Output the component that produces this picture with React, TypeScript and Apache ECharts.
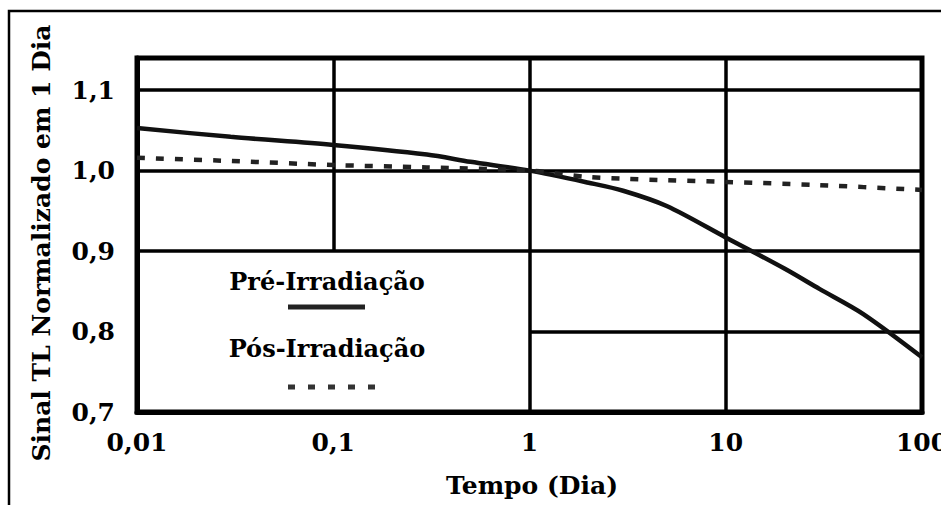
import React, { useEffect, useRef } from "react";
import * as echarts from "echarts";

// Data
const xTickValues = [0.01, 0.1, 1, 10, 100];
const xTickLabels = ["0,01", "0,1", "1", "10", "100"];
const yTickValues = [0.7, 0.8, 0.9, 1.0, 1.1];
const yTickLabels = ["0,7", "0,8", "0,9", "1,0", "1,1"];

const preX = [0.01, 0.03, 0.1, 0.3, 0.5, 1, 2, 3, 5, 10, 20, 30, 50, 100];
const preY = [1.053, 1.042, 1.032, 1.02, 1.011, 1.0, 0.985, 0.975, 0.956, 0.917, 0.878, 0.853, 0.822, 0.768];

const postX = [0.01, 0.03, 0.1, 0.3, 1, 2, 3, 5, 10, 30, 100];
const postY = [1.016, 1.012, 1.007, 1.004, 1.0, 0.992, 0.99, 0.988, 0.986, 0.982, 0.976];

const seriesNames = ["Pré-Irradiação", "Pós-Irradiação"];
const xTitle = "Tempo (Dia)";
const yTitle = "Sinal TL Normalizado em 1 Dia";

const FONT = "DejaVu Serif";

export default function App() {
  const ref = useRef<HTMLDivElement>(null);

  useEffect(() => {
    if (!ref.current) return;
    const chart = echarts.init(ref.current, null, { renderer: "svg" });
    const gridLine = { color: "#000", width: 3.5, type: "solid" as const };
    const textStyle = (size: number) => ({
      fill: "#000",
      fontFamily: FONT,
      fontWeight: "bold" as const,
      fontSize: size,
      align: "center" as const,
      verticalAlign: "middle" as const,
    });
    const option = {
      animation: false,
      backgroundColor: "#fff",
      grid: {
        left: 137,
        right: 19,
        top: 58,
        bottom: 93,
        show: true,
        borderColor: "#000",
        borderWidth: 5,
        backgroundColor: "transparent",
        containLabel: false,
        outerBoundsMode: "none",
      },
      xAxis: {
        type: "log",
        logBase: 10,
        min: 0.01,
        max: 100,
        axisLine: { show: true, lineStyle: { color: "#000", width: 5 } },
        axisTick: { show: false },
        splitLine: { show: false },
        axisLabel: {
          margin: 18,
          color: "#000",
          fontFamily: FONT,
          fontWeight: "bold",
          fontSize: 25,
          formatter: (v: number) => {
            const i = xTickValues.findIndex((t) => Math.abs(Math.log10(t) - Math.log10(v)) < 1e-6);
            return i >= 0 ? xTickLabels[i] : "";
          },
        },
      },
      yAxis: {
        type: "value",
        min: 0.7,
        max: 1.14,
        interval: 0.1,
        axisLine: { show: true, lineStyle: { color: "#000", width: 5 } },
        axisTick: { show: false },
        splitLine: { show: false },
        axisLabel: {
          margin: 22,
          color: "#000",
          fontFamily: FONT,
          fontWeight: "bold",
          fontSize: 25,
          formatter: (v: number) => {
            const i = yTickValues.findIndex((t) => Math.abs(t - v) < 1e-6);
            return i >= 0 ? yTickLabels[i] : "";
          },
        },
      },
      series: [
        {
          name: seriesNames[0],
          type: "line",
          smooth: 0.3,
          symbol: "none",
          lineStyle: { color: "#111", width: 4.5 },
          data: preX.map((x, i) => [x, preY[i]]),
          z: 3,
          markLine: {
            silent: true,
            symbol: "none",
            label: { show: false },
            lineStyle: gridLine,
            z: 1,
            data: [
              { yAxis: 1.1 },
              { yAxis: 1.0 },
              { yAxis: 0.9 },
              [{ coord: [1, 0.8] }, { coord: [100, 0.8] }],
              [{ coord: [0.1, 0.9] }, { coord: [0.1, 1.14] }],
              { xAxis: 1 },
              { xAxis: 10 },
            ],
          },
        },
        {
          name: seriesNames[1],
          type: "line",
          smooth: 0.3,
          symbol: "none",
          lineStyle: { color: "#222", width: 4.5, type: [8, 11] },
          data: postX.map((x, i) => [x, postY[i]]),
          z: 4,
        },
      ],
      graphic: [
        {
          type: "rect",
          silent: true,
          shape: { x: 9, y: 11, width: 1200, height: 1200 },
          style: { fill: "none", stroke: "#000", lineWidth: 2.5 },
        },
        {
          type: "text",
          x: 41,
          y: 243,
          rotation: Math.PI / 2,
          style: { text: yTitle, ...textStyle(25) },
        },
        {
          type: "text",
          x: 532,
          y: 485,
          style: { text: xTitle, ...textStyle(25) },
        },
        {
          type: "text",
          x: 327,
          y: 281,
          style: { text: seriesNames[0], ...textStyle(24) },
        },
        {
          type: "line",
          shape: { x1: 288, y1: 307, x2: 365, y2: 307 },
          style: { stroke: "#222", lineWidth: 5 },
        },
        {
          type: "text",
          x: 327,
          y: 348,
          style: { text: seriesNames[1], ...textStyle(24) },
        },
        {
          type: "line",
          shape: { x1: 288, y1: 387, x2: 378, y2: 387 },
          style: { stroke: "#333", lineWidth: 5, lineDash: [7, 13] },
        },
      ],
    };
    chart.setOption(option as any);
    return () => chart.dispose();
  }, []);

  return (
    <div
      ref={ref}
      style={{ position: "absolute", left: 0, top: 0, width: 941, height: 505, background: "#fff" }}
    />
  );
}
